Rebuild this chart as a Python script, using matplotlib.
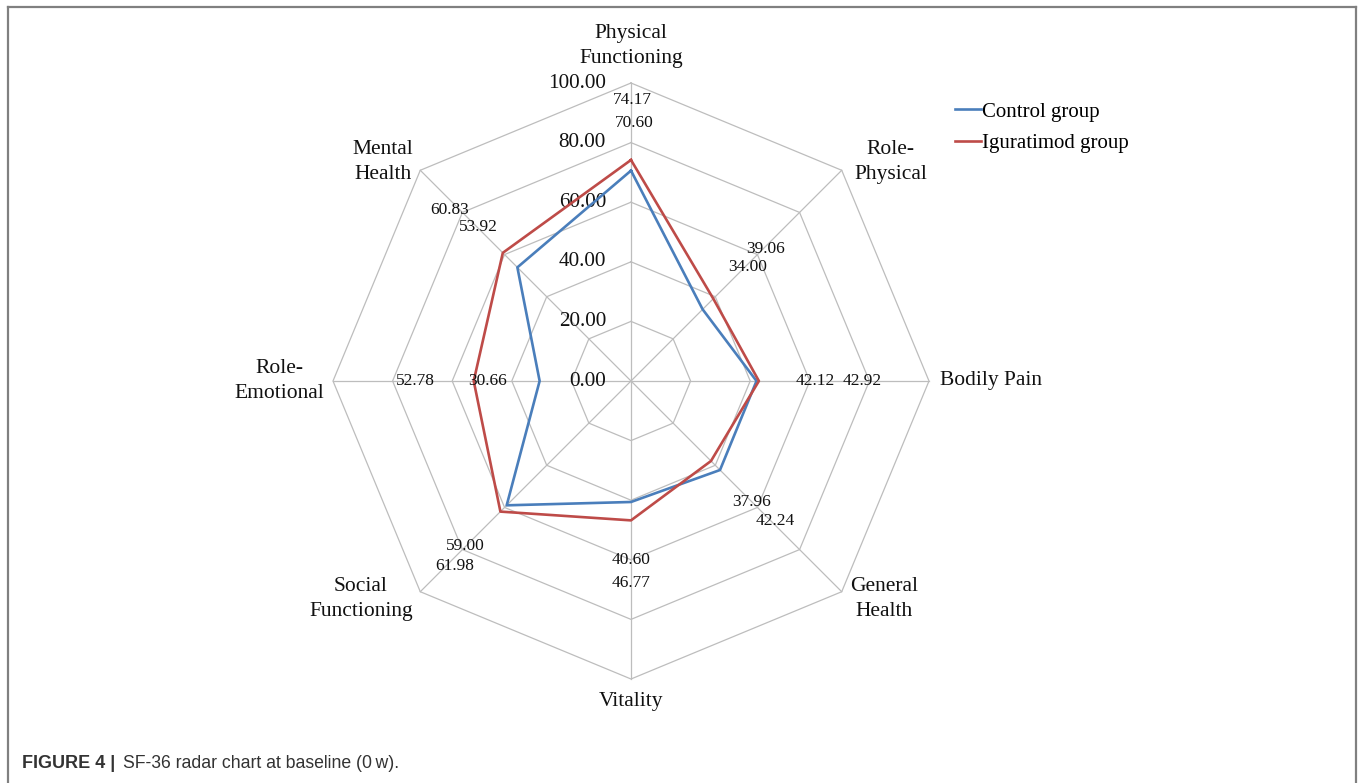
import numpy as np
import matplotlib
matplotlib.use("Agg")
import matplotlib.pyplot as plt
from matplotlib.lines import Line2D

# SF-36 domains, clockwise from the top
categories = ["Physical\nFunctioning", "Role-\nPhysical", "Bodily Pain", "General\nHealth",
              "Vitality", "Social\nFunctioning", "Role-\nEmotional", "Mental\nHealth"]
control = [70.60, 34.00, 42.12, 42.24, 40.60, 59.00, 30.66, 53.92]
iguratimod = [74.17, 39.06, 42.92, 37.96, 46.77, 61.98, 52.78, 60.83]
ticks = [0, 20, 40, 60, 80, 100]

# where the data labels sit (chart units), as moved by hand in the original
control_lbl = [(1, 86.6), (39.3, 38.3), (61.7, 0), (48.3, -47), (0, -60),
               (-55.7, -55.4), (-48, 0), (-51.3, 51.7)]
igur_lbl = [(0.3, 94.3), (45, 44.3), (77.5, 0), (40.6, -40.6), (0, -67.8),
            (-59, -62), (-72.5, 0), (-60.7, 57.4)]
cat_pos = [(0, 112.4), (87.2, 73.5), (120.8, 0), (84.9, -73.2), (0, -107.7),
           (-90.6, -73.2), (-118, 0), (-83.2, 73.5)]

SERIF = ["Liberation Serif", "DejaVu Serif"]
SANS = ["Liberation Sans", "DejaVu Sans"]
BLUE = "#4a7ebb"
RED = "#be4b48"
GRID = "#bdbdbd"

W, H = 1360, 783
PX = 2.98          # pixels per chart unit
CX, CY = 631, 381  # centre of the radar in pixels

fig = plt.figure(figsize=(W / 100, H / 100), dpi=100)
ax = fig.add_axes([0, 0, 1, 1])
ax.set_xlim(-CX / PX, (W - CX) / PX)
ax.set_ylim(-(H - CY) / PX, CY / PX)
ax.axis("off")

n = len(categories)
ang = np.deg2rad(90 - 45 * np.arange(n))


def xy(vals):
    v = np.asarray(vals, dtype=float)
    x = v * np.cos(ang)
    y = v * np.sin(ang)
    return np.append(x, x[0]), np.append(y, y[0])


# grid rings and spokes
for t in ticks[1:]:
    gx, gy = xy([t] * n)
    ax.plot(gx, gy, color=GRID, lw=0.9, zorder=1)
for a in ang:
    ax.plot([0, 100 * np.cos(a)], [0, 100 * np.sin(a)], color=GRID, lw=0.9, zorder=1)

for t in ticks:
    ax.text(-8.4, t, f"{t:.2f}", ha="right", va="center", fontsize=15.2,
            family=SERIF, color="#111111", zorder=3)

bx, by = xy(control)
rx, ry = xy(iguratimod)
ax.plot(bx, by, color=BLUE, lw=1.9, zorder=4, label="Control group")
ax.plot(rx, ry, color=RED, lw=1.9, zorder=4, label="Iguratimod group")

for vals, pos in [(control, control_lbl), (iguratimod, igur_lbl)]:
    for v, (px, py) in zip(vals, pos):
        ax.text(px, py, f"{v:.2f}", ha="center", va="center", fontsize=12.5,
                family=SERIF, color="#111111", zorder=5)

for c, (px, py) in zip(categories, cat_pos):
    ax.text(px, py, c, ha="center", va="center", fontsize=15.5, family=SERIF,
            color="#111111", linespacing=1.38)

leg = ax.legend(loc="upper left", bbox_to_anchor=(955 / W, 1 - 102 / H),
                bbox_transform=fig.transFigure, frameon=False, borderpad=0,
                borderaxespad=0, handlelength=1.25, handletextpad=0.05,
                labelspacing=0.58, prop={"family": SERIF, "size": 15})

# panel border (open at the bottom)
fc = "#808080"
fig.add_artist(Line2D([7.5 / W, 7.5 / W], [0, 1 - 7 / H], color=fc, lw=1.6,
                      transform=fig.transFigure))
fig.add_artist(Line2D([7.5 / W, 1356 / W], [1 - 7 / H, 1 - 7 / H], color=fc, lw=1.6,
                      transform=fig.transFigure))
fig.add_artist(Line2D([1356 / W, 1356 / W], [0, 1 - 7 / H], color=fc, lw=1.6,
                      transform=fig.transFigure))

# caption
fig.text(22 / W, 1 - 763 / H, "FIGURE 4 |", fontsize=13, fontweight="bold",
         family=SANS, color="#333333", va="center")
fig.text(123 / W, 1 - 763 / H, "SF-36 radar chart at baseline (0\u2009w).", fontsize=12.7,
         family=SANS, color="#333333", va="center")

fig.savefig("out.png", dpi=100)
